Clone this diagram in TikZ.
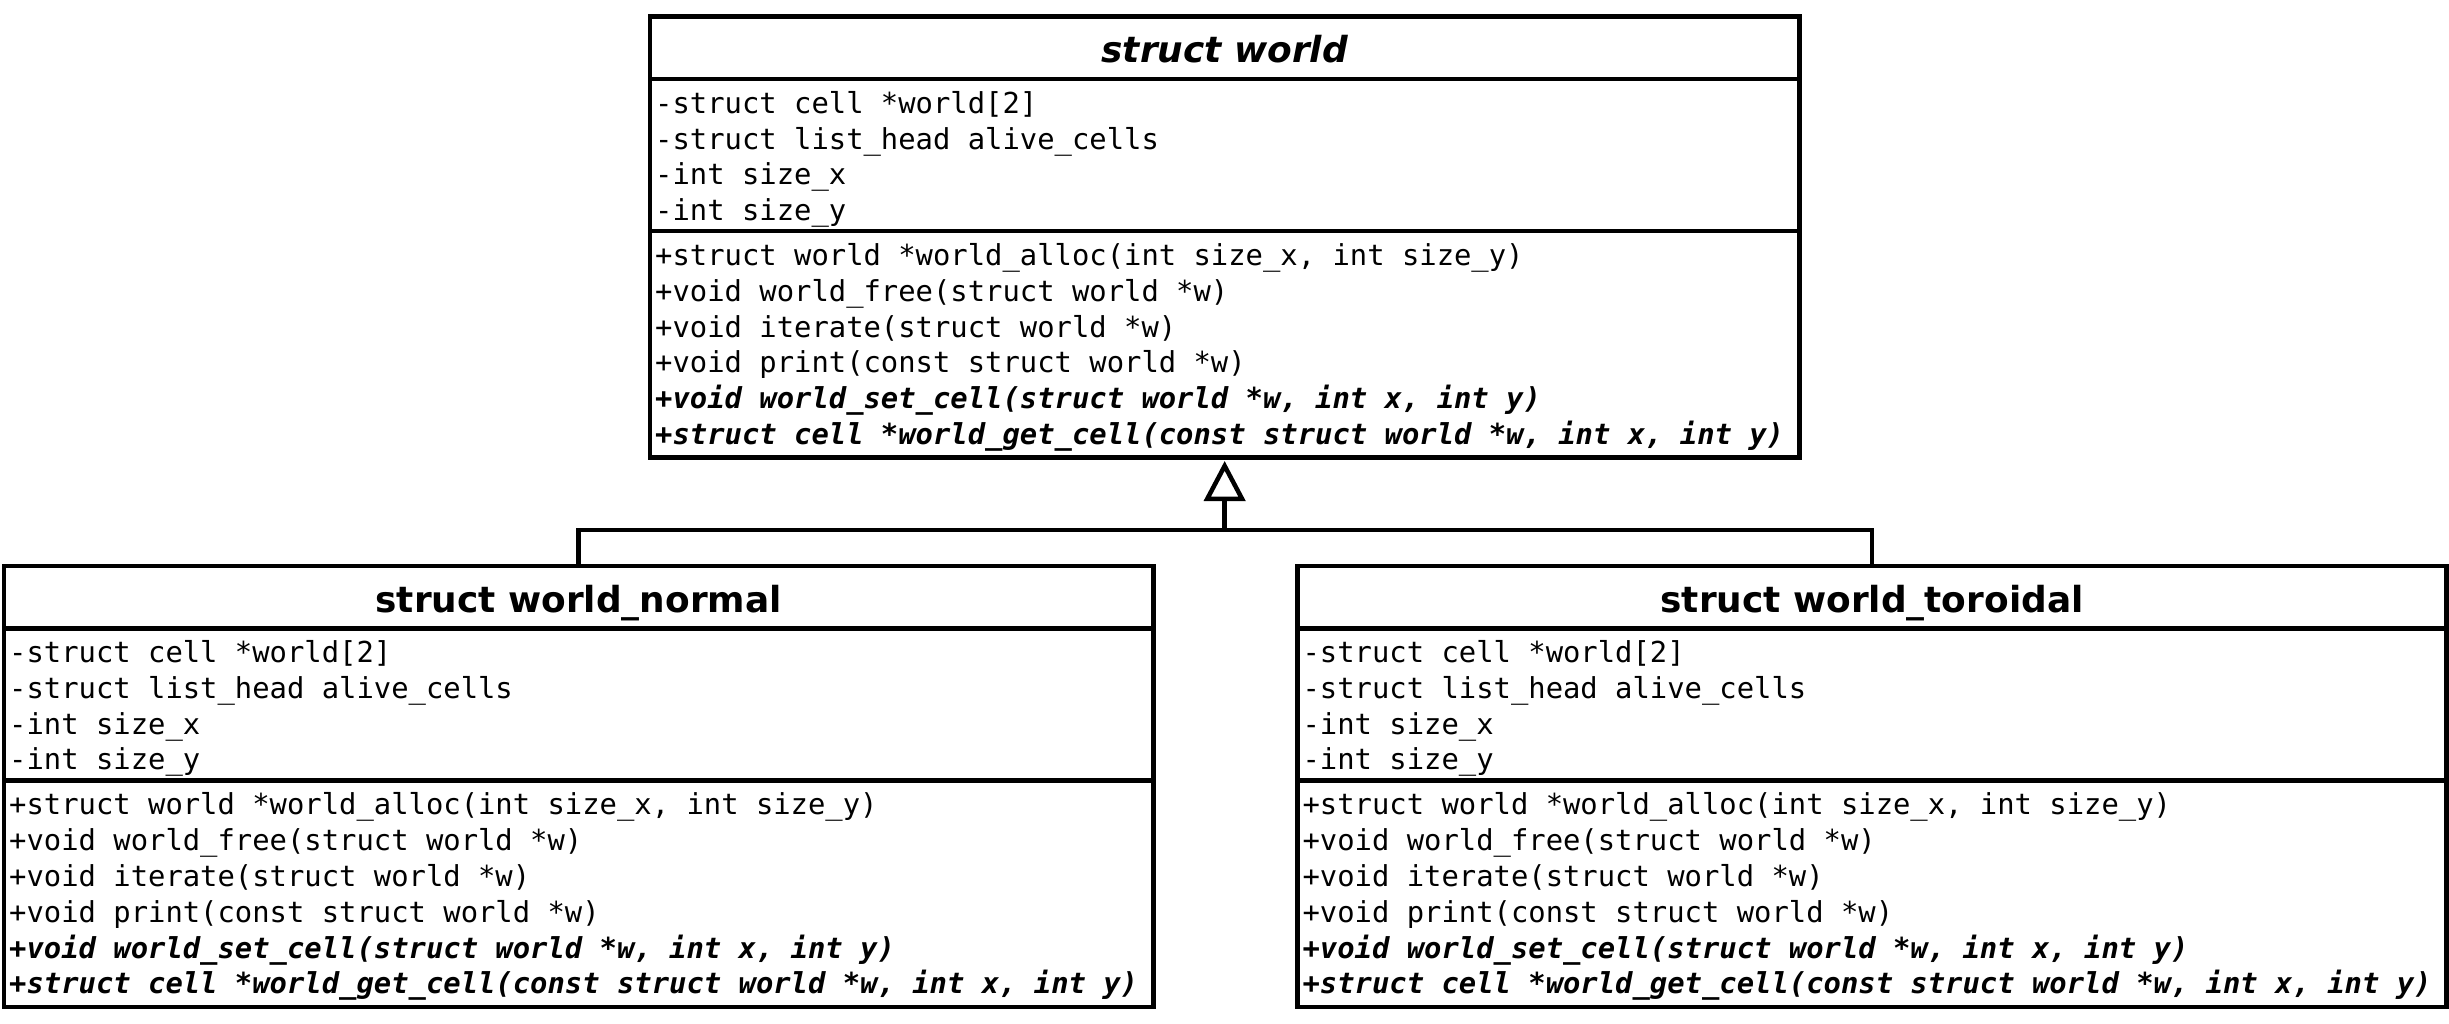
\documentclass[tikz,border=0pt]{standalone}
\usepackage{fontspec}
\newfontfamily\memfont{DejaVu Sans Mono}
\newfontfamily\ttlfont{DejaVu Sans}
\usetikzlibrary{arrows.meta,calc}
\tikzset{
  umlbox/.style={draw, line width=4.5pt, rectangle, inner sep=0pt, outer sep=0pt,
    minimum width=1149.3pt, minimum height=441pt, anchor=north west},
  sepline/.style={line width=4.5pt},
  mem/.style={anchor=base west, inner sep=0pt, font=\memfont\fontsize{28.85}{34}\selectfont},
  abst/.style={mem, font=\memfont\fontsize{28.85}{34}\selectfont\bfseries\itshape},
  ttl/.style={anchor=base, inner sep=0pt, font=\ttlfont\fontsize{35.9}{42}\selectfont\bfseries},
  conn/.style={line width=4.5pt},
  gentip/.style={-{Triangle[open, length=40pt, width=41pt]}, shorten >=3.5pt},
}
\newcommand\drawuml[4]{%
  \node[umlbox] (#1) at (#2,#3) {};
  \draw[sepline] ($(#1.north west)+(0,62.7)$) -- ($(#1.north east)+(0,62.7)$);
  \draw[sepline] ($(#1.north west)+(0,214.5)$) -- ($(#1.north east)+(0,214.5)$);
  \node[ttl] (#1-t) at ($(#1.north)+(0,46.5)$) {#4};
  \node[mem] (#1-a1) at ($(#1.north west)+(5,97)$) {-struct cell *world[2]};
  \node[mem] (#1-a2) at ($(#1.north west)+(5,132.6)$) {-struct list\_head alive\_cells};
  \node[mem] (#1-a3) at ($(#1.north west)+(5,168.2)$) {-int size\_x};
  \node[mem] (#1-a4) at ($(#1.north west)+(5,203.8)$) {-int size\_y};
  \node[mem] (#1-m1) at ($(#1.north west)+(5,249)$) {+struct world *world\_alloc(int size\_x, int size\_y)};
  \node[mem] (#1-m2) at ($(#1.north west)+(5,284.8)$) {+void world\_free(struct world *w)};
  \node[mem] (#1-m3) at ($(#1.north west)+(5,320.6)$) {+void iterate(struct world *w)};
  \node[mem] (#1-m4) at ($(#1.north west)+(5,356.4)$) {+void print(const struct world *w)};
  \node[abst] (#1-m5) at ($(#1.north west)+(5,392.2)$) {+void world\_set\_cell(struct world *w, int x, int y)};
  \node[abst] (#1-m6) at ($(#1.north west)+(5,428)$) {+struct cell *world\_get\_cell(const struct world *w, int x, int y)};
}
\begin{document}
\begin{tikzpicture}[x=1pt, y=-1pt]
  \useasboundingbox[fill=white] (0,0) rectangle (2449,1024);
  \drawuml{top}{650}{16.5}{\itshape struct world}
  \drawuml{left}{4}{565.8}{struct world\_normal}
  \drawuml{right}{1297.4}{565.8}{struct world\_toroidal}
  \coordinate (junc) at (1224.65,530);
  \draw[conn] (left.north) |- (junc);
  \draw[conn] (right.north) |- (junc);
  \draw[conn, gentip] (junc) -- (top.south);
\end{tikzpicture}
\end{document}
